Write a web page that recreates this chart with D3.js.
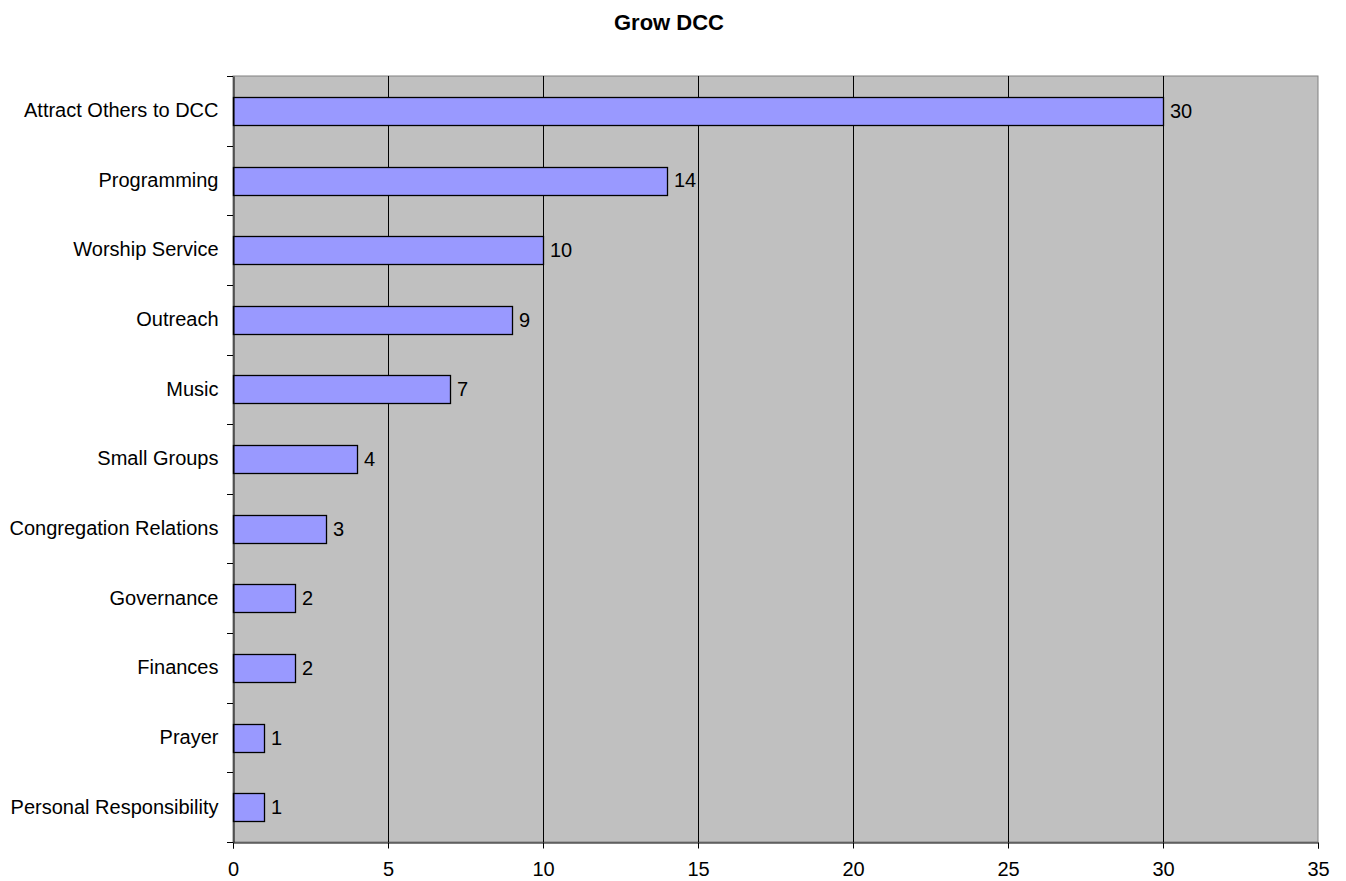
<!DOCTYPE html>
<html><head><meta charset="utf-8">
<script src="https://cdn.jsdelivr.net/npm/d3@7/dist/d3.min.js"></script>
<style>body{margin:0;background:#fff;}svg{display:block;font-family:"Liberation Sans",Arial,sans-serif;}</style>
</head><body>
<svg id="chart" width="1346" height="881"></svg>
<script>
const categories = ["Attract Others to DCC","Programming","Worship Service","Outreach","Music","Small Groups","Congregation Relations","Governance","Finances","Prayer","Personal Responsibility"];
const values = [30,14,10,9,7,4,3,2,2,1,1];
const xTicks = [0,5,10,15,20,25,30,35];
const title = "Grow DCC";

const FS = 20;
const svg = d3.select("#chart");
const m = {left:233, right:1318, top:76, bottom:842};
const x = d3.scaleLinear().domain([0,35]).range([m.left,m.right]);
const y = d3.scaleBand().domain(categories).range([m.top,m.bottom]).paddingInner(0.6).paddingOuter(0.3);
const yb = d3.scaleBand().domain(categories).range([m.top,m.bottom]);

svg.append("rect").attr("x",m.left).attr("y",m.top).attr("width",m.right-m.left).attr("height",m.bottom-m.top)
  .attr("fill","#c0c0c0").attr("stroke","#808080").attr("stroke-width",1);

// gridlines
svg.append("g").selectAll("line").data(xTicks.filter(d=>d>0&&d<35)).join("line")
  .attr("x1",d=>x(d)+0.5).attr("x2",d=>x(d)+0.5).attr("y1",m.top).attr("y2",m.bottom).attr("stroke","#000").attr("stroke-width",1);

// bars
svg.append("g").selectAll("rect").data(categories).join("rect")
  .attr("x",x(0)+0.5).attr("y",d=>Math.round(y(d))+0.5)
  .attr("width",(d,i)=>x(values[i])-x(0)).attr("height",Math.round(y.bandwidth()))
  .attr("fill","#9999ff").attr("stroke","#000").attr("stroke-width",1.3);

// value labels
svg.append("g").selectAll("text").data(categories).join("text")
  .attr("x",(d,i)=>x(values[i])+7).attr("y",d=>y(d)+y.bandwidth()/2)
  .attr("dy","0.35em").attr("font-size",FS).attr("fill","#000").text((d,i)=>values[i]);

// y axis
const yAxis = d3.axisLeft(yb).tickSize(0).tickPadding(15);
const gy = svg.append("g").attr("transform",`translate(${m.left+0.5},0)`).call(yAxis);
gy.select(".domain").attr("stroke","#000");
gy.selectAll("text").attr("font-size",FS).attr("fill","#000").style("font-family","Liberation Sans, Arial, sans-serif");
// category boundary ticks
const bounds = d3.range(categories.length+1).map(i=>m.top + i*yb.step());
svg.append("g").selectAll("line").data(bounds).join("line")
  .attr("x1",m.left-6).attr("x2",m.left).attr("y1",d=>Math.round(d)+0.5).attr("y2",d=>Math.round(d)+0.5).attr("stroke","#000");

// x axis
const xAxis = d3.axisBottom(x).tickValues(xTicks).tickSize(6).tickPadding(13).tickFormat(d3.format("d"));
const gx = svg.append("g").attr("transform",`translate(0,${m.bottom+0.5})`).call(xAxis);
gx.select(".domain").attr("stroke","#000");
gx.selectAll(".tick line").attr("stroke","#000");
gx.selectAll("text").attr("font-size",FS).attr("fill","#000").style("font-family","Liberation Sans, Arial, sans-serif");

svg.append("text").attr("x",669).attr("y",30).attr("text-anchor","middle")
  .attr("font-size",22).attr("font-weight","bold").text(title);
</script>
</body></html>
